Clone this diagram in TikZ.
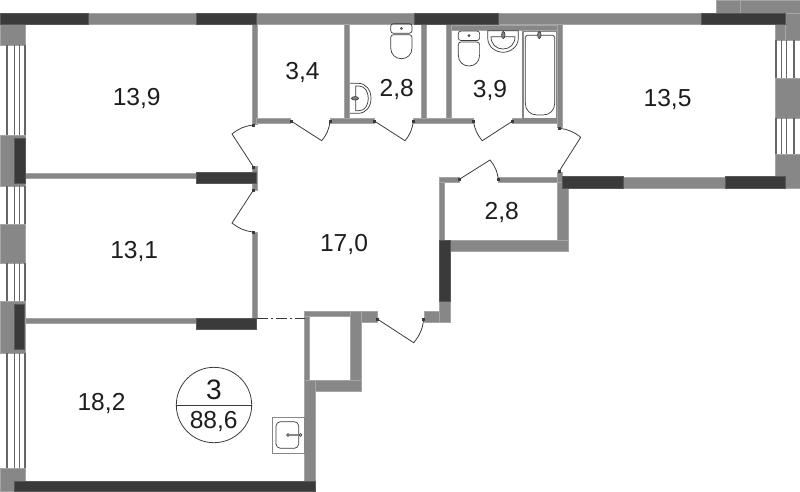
\documentclass[tikz,border=0pt]{standalone}
\usepackage{fontspec}
\setmainfont{Liberation Sans}
\definecolor{wallgray}{HTML}{878787}
\definecolor{walldark}{HTML}{3A3A3A}
\definecolor{glasslines}{HTML}{666666}
\definecolor{inktext}{HTML}{1D1D1B}
\tikzset{
  wallg/.style={fill=wallgray,draw=wallgray!75!white,line width=.3pt},
  walld/.style={fill=walldark,draw=walldark!85!white,line width=.3pt},
  fixture/.style={draw=walldark,line width=.4pt},
  doorleaf/.style={draw=walldark,line width=.45pt},
  roomlabel/.style={text=inktext,font=\fontsize{14}{14}\selectfont,inner sep=0pt,text height=10pt,text depth=0pt},
}
\begin{document}
\begin{tikzpicture}[x=.02cm,y=-.02cm]
\useasboundingbox (0,0) rectangle (800,491);
\foreach \xa/\ya/\xb/\yb in {88/13/196/24,256/13/414/24,498/13/701/24,716/0/800/13,785/13/800/40,775/24/785/40,
  775/78/800/118,775/154/800/188,0/24/25/45,0/135/25/186,0/224/25/263,0/301/25/353,0/468/25/491,
  25/173/196/178,25/318/196/323,252/24/257/124,252/166/257/190,252/232/257/318,
  344.3/24/349.3/119,421.7/24/426/119,446/24/451/119,451/25.5/557/30.5,557/24/562/127,557/172/562/188,
  256/118/290.5/123.5,330/118/374.3/123.5,413.3/118/473.5/123.5,512.7/118/557/123.5,
  439/177/459/182,498.3/177/557/182,557/182/568.3/251,439/182/444/240,450/240/568.3/251.7,
  439/301/450.3/322,424.3/311.5/439/322,361.7/311/377/322,304.5/311/350/316,304.5/316/309.5/380,
  350/311/361.3/391,304/380/361.3/391,304/380/315/481,623/177/725/188}
  \draw[wallg] (\xa,\ya) rectangle (\xb,\yb);
\draw[wallgray!75!white,line width=.3pt] (740,0) -- (740,13);
\foreach \xa/\ya/\xb/\yb in {0/13/88/24,196/13/256/24,414/13/498/24,701/13/785/24,14/138/25/183,14/304/24/349,
  14/481/315/491,196/172/256.5/183,196/318/256.5/329.5,439/240/450.3/301,562/176.5/623/188,725/176.5/785/188}
  \draw[walld] (\xa,\ya) rectangle (\xb,\yb);
\foreach \ya/\yb in {45/135,186/224,263/301,353/468}
  \foreach \xa in {6,13.5,18.5,24.2}
    \fill[glasslines] (\xa,\ya) rectangle (\xa+1.5,\yb);
\foreach \ya/\yb in {40/78,118/154}
  \foreach \xa in {775.3,780.7,785.7,793.4}
    \fill[glasslines] (\xa,\ya) rectangle (\xa+1.5,\yb);
% doors
\foreach \hx/\hy/\tx/\ty/\ex/\ey/\b in {253.5/167/232/134/253.5/125/16,253.5/190/232/223/253.5/232/-16,
  291/121/321.7/140.7/330/121/-16,374.3/121/405/140.7/413.3/121/-16,512.7/121/482.3/140.7/473.5/121/16,
  459/179.5/490/160/498.3/179.5/16,559.3/171/580.7/137.3/559.3/128.3/-16,377.3/319/413.7/342.7/423.7/319.3/-16}{
  \draw[doorleaf] (\hx,\hy) -- (\tx,\ty) to[bend left=\b] (\ex,\ey);
  \fill[walldark] (\hx-1.5,\hy-1.5) rectangle (\hx+1.5,\hy+1.5);
  \fill[walldark] (\ex-1.5,\ey-1.5) rectangle (\ex+1.5,\ey+1.5);
}
\coordinate (openL) at (256.5,318.7);
\coordinate (openR) at (304.5,318.7);
\draw[walldark,line width=.5pt,dash pattern=on 6.5pt off 1.7pt on 1pt off 1.7pt] (openL) -- (openR);
% toilets
\foreach \tx/\ty in {390.7/23.7,458.3/31}{
  \begin{scope}[shift={(\tx,\ty)},fixture]
  \draw[rounded corners=1.5] (0,0) rectangle (21.3,9.5);
  \draw (10.7,4.7) circle[radius=1];
  \draw[rounded corners=1.5] (0,24) -- (0,11) -- (21.3,11) -- (21.3,24);
  \draw (0,24) .. controls (0,31) and (5,35) .. (10.7,35) .. controls (16.5,35) and (21.3,31) .. (21.3,24);
  \end{scope}
}
% basins
\draw[fixture] (487.7,30.7) -- (518.3,30.7) -- (518.3,38) .. controls (518.3,47) and (510,52.3) .. (503,52.3) .. controls (496,52.3) and (487.7,47) .. (487.7,38) -- cycle;
\draw[fixture] (491,36.7) -- (515,36.7) .. controls (515,44) and (510,49) .. (503,49) .. controls (496,49) and (491,44) .. (491,36.7) -- cycle;
\draw[fixture,fill=wallgray] (503.3,35) ellipse[x radius=1.7,y radius=3.5];
\draw[fixture] (350,83.3) -- (358,83.3) .. controls (366,83.3) and (371,90) .. (371,98.3) .. controls (371,107) and (366,113.3) .. (358,113.3) -- (350,113.3);
\draw[fixture] (355.7,86) -- (359,86) .. controls (365,86) and (368.3,92) .. (368.3,98.3) .. controls (368.3,105) and (365,110.7) .. (359,110.7) -- (355.7,110.7) -- cycle;
\draw[fixture,fill=wallgray] (355,98.3) ellipse[x radius=3.5,y radius=1.7];
% bath
\draw[wallgray,line width=.8pt] (523,31.3) rectangle (556.7,118.3);
\draw[fixture,rounded corners=1] (525.3,42) -- (525.3,35.3) -- (554.7,35.3) -- (554.7,42);
\draw[fixture] (525.3,42) -- (525.3,103) .. controls (525.3,110) and (530,115) .. (537,115) -- (543,115) .. controls (550,115) and (554.7,110) .. (554.7,103) -- (554.7,42);
\draw[fixture,fill=wallgray] (539.3,35) ellipse[x radius=1.7,y radius=3.5];
% kitchen sink
\draw[wallgray,line width=.5pt] (272.7,417.7) rectangle (304,453.3);
\draw[fixture,rounded corners=2.5] (276,421.7) rectangle (298.7,448.3);
\draw[fixture] (288,435) circle[radius=1.3];
\draw[fixture] (300.5,435) circle[radius=1.3];
\fill[wallgray] (289.3,433.8) rectangle (299.2,436.2);
% area labels
\node[roomlabel] (room139) at (136.7,97) {13,9};
\node[roomlabel] (room131) at (134.2,249.5) {13,1};
\node[roomlabel] (room182) at (101.5,402) {18,2};
\node[roomlabel] (room34) at (302.5,71) {3,4};
\node[roomlabel] (room28a) at (396.8,88) {2,8};
\node[roomlabel] (room39) at (490,89) {3,9};
\node[roomlabel] (room135) at (667.5,98) {13,5};
\node[roomlabel] (room28b) at (501.8,211) {2,8};
\node[roomlabel] (room170) at (344,243) {17,0};
\node[circle,draw=walldark,line width=.45pt,minimum size=1.508cm,inner sep=0pt] (badge) at (214,405) {};
\draw[walldark,line width=.45pt] (badge.west) -- (badge.east);
\node[roomlabel,font=\fontsize{16}{16}\selectfont,text height=11.5pt] (rooms) at (214,389) {3};
\node[roomlabel] (total) at (213.7,419.7) {88,6};
\end{tikzpicture}
\end{document}
